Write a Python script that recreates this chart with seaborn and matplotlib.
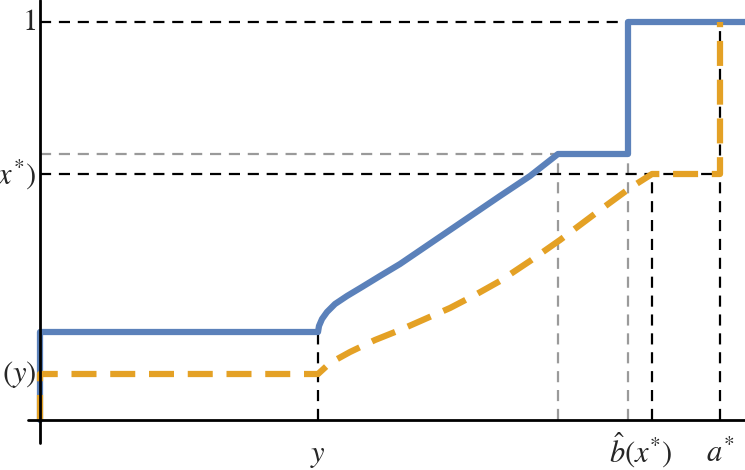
import numpy as np
import pandas as pd
import matplotlib
matplotlib.use("Agg")
import matplotlib.pyplot as plt
import seaborn as sns

sns.set_style("white")
plt.rcParams['mathtext.fontset'] = 'stix'
plt.rcParams['font.family'] = ['DejaVu Serif']

# pixel-read values converted to units (x: a* = 1, y: top = 1)
def X(p): return (np.asarray(p, float) - 40) / 680
def Y(p): return (420 - np.asarray(p, float)) / 398

blue_px_x = [40, 40, 318, 319, 322, 327, 335, 347, 362, 380, 400, 425, 450, 475, 500, 530, 558, 628, 628, 745]
blue_px_y = [420, 332, 332, 326, 319, 312, 304, 296, 287, 276, 264, 247, 230, 213, 196, 176, 154, 154, 22, 22]
orange_px_x = [40, 40, 318, 330, 350, 375, 400, 425, 450, 475, 500, 530, 560, 600, 630, 652, 720, 720]
orange_px_y = [420, 374, 374, 363, 352, 340, 330, 319, 308, 295, 281, 261, 240, 210, 188, 174, 174, 22]

blue = pd.DataFrame({"x": X(blue_px_x), "y": Y(blue_px_y)})
orange = pd.DataFrame({"x": X(orange_px_x), "y": Y(orange_px_y)})

x_y, x_gray1, x_gray2, x_bhat, x_astar = X([318, 558, 628, 652, 720])
y_low, y_mid_b, y_gray, y_xstar, y_one = Y([374, 332, 154, 174, 22])

fig = plt.figure(figsize=(7.45, 4.7), dpi=100)
ax = fig.add_axes([0, 0, 1, 1])
ax.set_xlim(X(0), X(745))
ax.set_ylim(Y(470), Y(0))
ax.axis("off")

gray = "#9a9a9a"
dash = dict(lw=1.6, dashes=(5, 3.5))
ax.plot([0, x_gray1], [y_gray, y_gray], color=gray, **dash)
ax.plot([x_gray1, x_gray1], [0, y_gray], color=gray, **dash)
ax.plot([x_gray2, x_gray2], [0, y_gray], color=gray, **dash)
ax.plot([0, x_astar], [y_one, y_one], color="black", **dash)
ax.plot([0, x_astar], [y_xstar, y_xstar], color="black", **dash)
ax.plot([x_y, x_y], [0, y_mid_b], color="black", **dash)
ax.plot([x_bhat, x_bhat], [0, y_xstar], color="black", **dash)
ax.plot([x_astar, x_astar], [0, y_one], color="black", **dash)

sns.lineplot(data=blue, x="x", y="y", sort=False, ax=ax, color="#5b81ba", lw=4.5, estimator=None)
l = sns.lineplot(data=orange, x="x", y="y", sort=False, ax=ax, color="#e4a125", lw=4.5, estimator=None)
l.lines[-1].set_dashes((4, 2.2))

ax.plot([X(28), X(745)], [0, 0], color="black", lw=2)
ax.plot([0, 0], [Y(443), Y(0)], color="black", lw=2)

fs = 22
ax.text(X(36), y_one, "$1$", ha="right", va="center", fontsize=fs)
ax.text(X(36), y_xstar, "$x^{*})$", ha="right", va="center", fontsize=fs)
ax.text(X(36), y_low, "$(y)$", ha="right", va="center", fontsize=fs)
ax.text(x_y, Y(455), "$y$", ha="center", va="center", fontsize=fs)
ax.text(X(641), Y(450), r"$\hat{b}(x^{*})$", ha="center", va="center", fontsize=fs)
ax.text(x_astar, Y(453), "$a^{*}$", ha="center", va="center", fontsize=fs)

fig.savefig("out.png", dpi=100)
